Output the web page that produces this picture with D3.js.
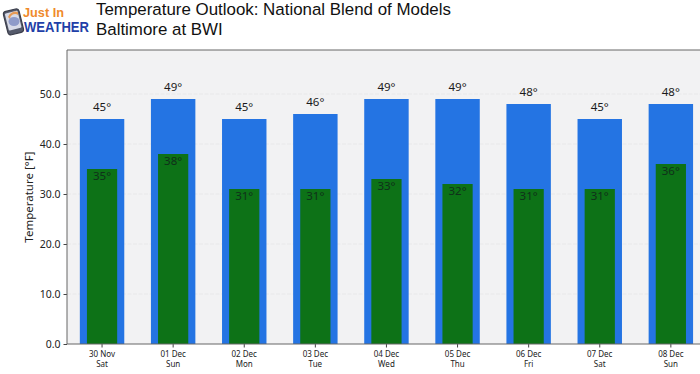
<!DOCTYPE html>
<html><head><meta charset="utf-8">
<style>html,body{margin:0;padding:0;background:#fff}svg{display:block}</style>
<script src="https://cdn.jsdelivr.net/npm/d3@7"></script></head>
<body><svg id="c" width="700" height="374"></svg>
<script>
const dates=["30 Nov","01 Dec","02 Dec","03 Dec","04 Dec","05 Dec","06 Dec","07 Dec","08 Dec"];
const days=["Sat","Sun","Mon","Tue","Wed","Thu","Fri","Sat","Sun"];
const highs=[45,49,45,46,49,49,48,45,48];
const lows=[35,38,31,31,33,32,31,31,36];
const yTicks=[0,10,20,30,40,50];
const titleLines=["Temperature Outlook: National Blend of Models","Baltimore at BWI"];

const svg=d3.select("#c");
const L=67,T=50,B=344,R=700;
const y=d3.scaleLinear().domain([0,58.8]).range([B,T]);
const x=d3.scaleBand().domain(d3.range(dates.length)).range([66.5,706.4]).paddingInner(0.375).paddingOuter(0.1875);
const gw=x.bandwidth()*0.68;
const font="'Noto Sans','DejaVu Sans',sans-serif";

svg.append("rect").attr("x",L).attr("y",T).attr("width",R-L).attr("height",B-T).attr("fill","#f2f2f3");
svg.append("g").selectAll("line").data(yTicks.slice(1)).join("line")
 .attr("x1",L).attr("x2",R).attr("y1",d=>y(d)).attr("y2",d=>y(d))
 .attr("stroke","#e8e8e9").attr("stroke-width",1).attr("stroke-dasharray","4 1.5");

svg.append("g").selectAll("rect").data(highs).join("rect")
 .attr("x",(d,i)=>x(i)).attr("width",x.bandwidth()).attr("y",d=>y(d)).attr("height",d=>B-y(d))
 .attr("fill","#2474e3");
svg.append("g").selectAll("rect").data(lows).join("rect")
 .attr("x",(d,i)=>x(i)+(x.bandwidth()-gw)/2).attr("width",gw).attr("y",d=>y(d)).attr("height",d=>B-y(d))
 .attr("fill","#0d7217");

svg.append("g").selectAll("text").data(highs).join("text")
 .attr("x",(d,i)=>x(i)+x.bandwidth()/2).attr("y",d=>y(d)-8).attr("text-anchor","middle")
 .attr("font-family",font).attr("font-size",11.5).attr("fill","#1a1a1a").text(d=>d+"°");
svg.append("g").selectAll("text").data(lows).join("text")
 .attr("x",(d,i)=>x(i)+x.bandwidth()/2).attr("y",d=>y(d)+11).attr("text-anchor","middle")
 .attr("font-family",font).attr("font-size",11.5).attr("fill","#10301a").text(d=>d+"°");

// axes
const ya=svg.append("g").attr("transform",`translate(${L},0)`)
 .call(d3.axisLeft(y).tickValues(yTicks).tickFormat(d3.format(".1f")).tickSize(3.5).tickPadding(3));
ya.selectAll("text").attr("font-family",font).attr("font-size",10.5).attr("fill","#222");
ya.select(".domain").remove(); ya.selectAll("line").attr("stroke","#444");
const xa=svg.append("g").attr("transform",`translate(0,${B})`)
 .call(d3.axisBottom(x).tickFormat(()=>"").tickSize(3.5));
xa.select(".domain").remove(); xa.selectAll("line").attr("stroke","#444");
xa.selectAll(".tick").each(function(d){
 const t=d3.select(this).select("text").attr("font-family",font).attr("font-size",8).attr("fill","#222").attr("y",0).attr("dy",null);
 t.append("tspan").attr("x",0).attr("y",13).text(dates[d]);
 t.append("tspan").attr("x",0).attr("y",23).text(days[d]);
});
svg.append("path").attr("d",`M${R},${T}H${L}V${B}H${R}`).attr("fill","none").attr("stroke","#666").attr("stroke-width",1);

svg.append("text").attr("transform",`translate(33,${197}) rotate(-90)`).attr("text-anchor","middle")
 .attr("font-family",font).attr("font-size",11.5).attr("fill","#222").text("Temperature [°F]");

svg.append("g").selectAll("text").data(titleLines).join("text")
 .attr("x",96).attr("y",(d,i)=>15+i*20).attr("font-family","'Liberation Sans',Arial,sans-serif")
 .attr("font-size",16.9).attr("fill","#111").text(d=>d);

// logo
const logo=svg.append("g");
logo.append("rect").attr("x",5.5).attr("y",10).attr("width",16).attr("height",24).attr("rx",3)
 .attr("transform","rotate(-14 13 22)").attr("fill","#555a6b").attr("stroke","#3a3d4a").attr("stroke-width",1.2);
logo.append("rect").attr("x",7).attr("y",12).attr("width",13).attr("height",17.5).attr("rx",1)
 .attr("transform","rotate(-14 13 22)").attr("fill","#d8dbe8");
logo.append("path").attr("d","M8,17 A8,8 0 0 1 18,12 L18,15 A5,5 0 0 0 10,19 Z").attr("fill","#e79a55");
logo.append("ellipse").attr("cx",14).attr("cy",21.5).attr("rx",5.5).attr("ry",4.5).attr("fill","#8f9bc9");
logo.append("text").attr("x",23).attr("y",16.5).attr("font-family","'Liberation Sans',Arial,sans-serif")
 .attr("font-size",13).attr("font-weight","bold").attr("fill","#ef8a2b").attr("textLength",41).attr("lengthAdjust","spacingAndGlyphs").text("Just In");
logo.append("text").attr("x",24).attr("y",32).attr("font-family","'Liberation Sans',Arial,sans-serif")
 .attr("font-size",14).attr("font-weight","bold").attr("fill","#1f3fa8").attr("textLength",65).attr("lengthAdjust","spacingAndGlyphs").text("WEATHER");
</script></body></html>
